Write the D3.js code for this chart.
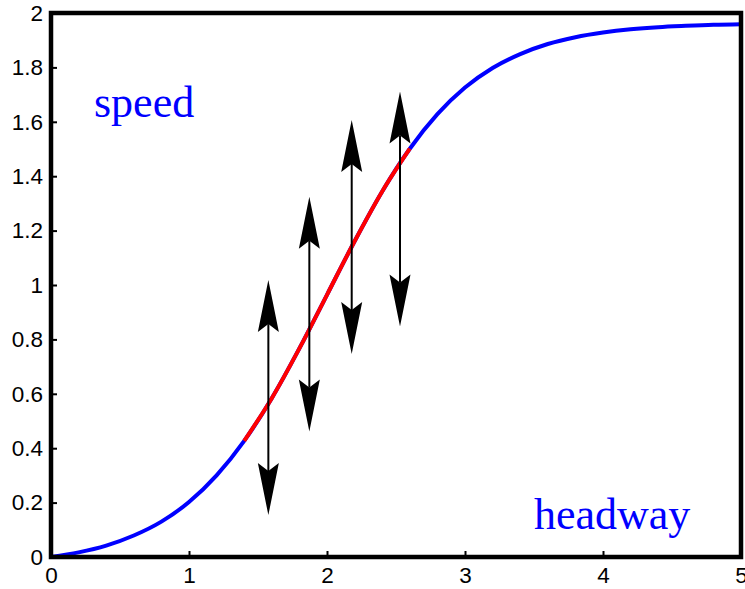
<!DOCTYPE html>
<html>
<head>
<meta charset="utf-8">
<script src="https://cdn.jsdelivr.net/npm/d3@7"></script>
<style>
  body { margin: 0; background: #fff; }
  svg { display: block; }
</style>
</head>
<body>
<div id="chart"></div>
<script>
// headway values and speed
var headway = [0, 0.2, 0.4, 0.6, 0.8, 1.0, 1.2, 1.4, 1.6, 1.8, 2.0, 2.2, 2.4,
               2.6, 2.8, 3.0, 3.2, 3.4, 3.6, 3.8, 4.0, 4.2, 4.4, 4.6, 4.8, 5.0];
var speed = [0, 0.017, 0.042, 0.079, 0.130, 0.202, 0.300, 0.427, 0.584, 0.767, 0.964, 1.161, 1.344,
             1.501, 1.628, 1.726, 1.798, 1.849, 1.886, 1.911, 1.928, 1.940, 1.948, 1.953, 1.957, 1.959];

// highlighted (unstable) part of the curve
var redFrom = 1.4, redTo = 2.6;

// double arrows
var arrowX = [1.575, 1.872, 2.179, 2.529];
var arrowTop = [1.018, 1.324, 1.607, 1.711];
var arrowBottom = [0.154, 0.461, 0.746, 0.847];

var xTicks = [0, 1, 2, 3, 4, 5];
var yTicks = [0, 0.2, 0.4, 0.6, 0.8, 1, 1.2, 1.4, 1.6, 1.8, 2];

var width = 745, height = 589;
var margin = {left: 51, right: 4, top: 13, bottom: 32};

var svg = d3.select('#chart')
  .append('svg')
  .attr('width', width)
  .attr('height', height);

var x = d3.scaleLinear().domain([0, 5]).range([margin.left, width - margin.right]);
var y = d3.scaleLinear().domain([0, 2]).range([height - margin.bottom, margin.top]);

var pts = headway.map(function(h, i) { return {h: h, v: speed[i]}; });

var line = d3.line()
  .x(function(d) { return x(d.h); })
  .y(function(d) { return y(d.v); })
  .curve(d3.curveMonotoneX);

//Curve, blue first then the red piece on top
svg.append('path')
  .attr('d', line(pts))
  .attr('fill', 'none')
  .attr('stroke', '#0000ff')
  .attr('stroke-width', 4);

svg.append('path')
  .attr('d', line(pts.filter(function(d) { return d.h >= redFrom && d.h <= redTo; })))
  .attr('fill', 'none')
  .attr('stroke', '#ff0000')
  .attr('stroke-width', 4);

//Arrows
var head = 'M0,0 L10.5,52 L0,44 L-10.5,52 Z';
arrowX.forEach(function(ax, i) {
  var px = x(ax), t = y(arrowTop[i]), b = y(arrowBottom[i]);
  svg.append('line')
    .attr('x1', px).attr('x2', px)
    .attr('y1', t + 44).attr('y2', b - 44)
    .attr('stroke', 'black')
    .attr('stroke-width', 2);
  svg.append('path')
    .attr('d', head)
    .attr('transform', 'translate(' + px + ',' + t + ')')
    .attr('fill', 'black');
  svg.append('path')
    .attr('d', head)
    .attr('transform', 'translate(' + px + ',' + b + ') rotate(180)')
    .attr('fill', 'black');
});

//Axes with inward ticks
var xAxis = svg.append('g')
  .attr('transform', 'translate(0,' + y(0) + ')')
  .call(d3.axisBottom(x).tickValues(xTicks).tickSizeInner(-6).tickSizeOuter(0).tickPadding(10).tickFormat(d3.format('d')));

var yAxis = svg.append('g')
  .attr('transform', 'translate(' + x(0) + ',0)')
  .call(d3.axisLeft(y).tickValues(yTicks).tickSizeInner(-6).tickSizeOuter(0).tickPadding(8).tickFormat(function(d) { return d3.format('')(d); }));

[xAxis, yAxis].forEach(function(g) {
  g.select('.domain').remove();
  g.selectAll('.tick line').attr('stroke', 'black').attr('stroke-width', 2);
  g.selectAll('.tick text')
    .attr('fill', 'black')
    .style('font-family', 'Liberation Sans, Arial, sans-serif')
    .style('font-size', '22.5px');
});

//Box around the plot
svg.append('rect')
  .attr('x', x(0))
  .attr('y', y(2))
  .attr('width', x(5) - x(0))
  .attr('height', y(0) - y(2))
  .attr('fill', 'none')
  .attr('stroke', 'black')
  .attr('stroke-width', 4.5);

//Labels
svg.append('text')
  .attr('x', 94).attr('y', 117)
  .attr('fill', '#0000ff')
  .style('font-family', 'Liberation Serif, Times New Roman, serif')
  .style('font-size', '44px')
  .text('speed');

svg.append('text')
  .attr('x', 534).attr('y', 529)
  .attr('fill', '#0000ff')
  .style('font-family', 'Liberation Serif, Times New Roman, serif')
  .style('font-size', '44px')
  .text('headway');
</script>
</body>
</html>
